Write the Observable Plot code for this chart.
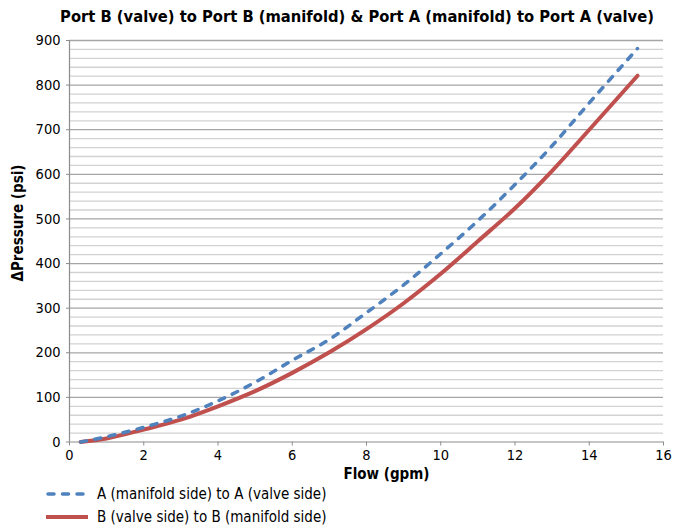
<!DOCTYPE html>
<html>
<head>
<meta charset="utf-8">
<script src="https://cdn.jsdelivr.net/npm/d3@7"></script>
<script src="https://cdn.jsdelivr.net/npm/@observablehq/plot@0.6"></script>
<style>
  html, body { margin: 0; padding: 0; background: #fff; }
  body { width: 683px; height: 529px; position: relative; overflow: hidden;
         font-family: "DejaVu Sans Condensed", "Liberation Sans Narrow", "Roboto", sans-serif; color: #000; }
  #title { position: absolute; left: 357px; top: 7px; transform: translateX(-50%);
           font-weight: bold; font-size: 16.4px; white-space: nowrap; }
  #chart { position: absolute; left: 0; top: 30px; }
  #ylabel { position: absolute; left: 18px; top: 223px; transform: translate(-50%, -50%) rotate(-90deg);
            font-weight: bold; font-size: 15px; white-space: nowrap; }
  .leg { position: absolute; left: 44px; height: 20px; display: flex; align-items: center;
         font-size: 15px; white-space: nowrap; }
  .leg svg { margin-right: 7px; }
</style>
</head>
<body>
<div id="title"></div>
<div id="chart"></div>
<div id="ylabel"></div>
<div id="legend"></div>
<script>
// ---- data ----
const titleText = "Port B (valve) to Port B (manifold) & Port A (manifold) to Port A (valve)";
const xLabel = "Flow (gpm)";
const yLabel = "ΔPressure (psi)";
const seriesNames = ["A (manifold side) to A (valve side)", "B (valve side) to B (manifold side)"];
const seriesColors = ["#4F81BD", "#C0504D"];
const flow    = [0.3, 1, 2, 3, 4, 5, 6, 7, 8, 9, 10, 11, 12, 13, 14, 15.3];
const seriesA = [0, 12, 33, 58, 92, 134, 183, 230, 290, 352, 422, 496, 577, 664, 760, 882];
const seriesB = [0, 8, 28, 50, 80, 114, 155, 201, 253, 311, 377, 450, 524, 608, 700, 821];
const xTicks = [0, 2, 4, 6, 8, 10, 12, 14, 16];
const yTicks = [0, 100, 200, 300, 400, 500, 600, 700, 800, 900];
const yMinorGrid = [20, 40, 60, 80, 120, 140, 160, 180, 220, 240, 260, 280, 320, 340, 360, 380,
  420, 440, 460, 480, 520, 540, 560, 580, 620, 640, 660, 680, 720, 740, 760, 780, 820, 840, 860, 880];

const rowsA = flow.map((f, i) => ({flow: f, p: seriesA[i]}));
const rowsB = flow.map((f, i) => ({flow: f, p: seriesB[i]}));

document.getElementById("title").textContent = titleText;
document.getElementById("ylabel").textContent = yLabel;

const font = '"DejaVu Sans Condensed", "Liberation Sans Narrow", "Roboto", sans-serif';

const plot = Plot.plot({
  width: 683,
  height: 460,
  marginTop: 10,
  marginBottom: 48.5,
  marginLeft: 69,
  marginRight: 20,
  style: {fontFamily: font, fontSize: "14.5px", color: "#000", background: "transparent", overflow: "visible"},
  x: {domain: [0, 16], ticks: xTicks},
  y: {domain: [0, 900], ticks: yTicks},
  marks: [
    Plot.ruleY(yMinorGrid, {stroke: "#d2d2d2", strokeWidth: 1.3}),
    Plot.ruleY(yTicks.filter(d => d > 0), {stroke: "#a6a6a6", strokeWidth: 1.3}),
    Plot.ruleX([0], {stroke: "#8c8c8c", strokeWidth: 1.2}),
    Plot.ruleY([0], {stroke: "#8c8c8c", strokeWidth: 1.2}),
    Plot.axisX({ticks: xTicks, tickSize: 4, tickPadding: 4, stroke: "#8c8c8c", label: null, fontSize: 14.5}),
    Plot.axisY({ticks: yTicks, tickSize: 3, tickPadding: 6, stroke: "#8c8c8c", label: null, fontSize: 14.5}),
    Plot.line(rowsB, {x: "flow", y: "p", stroke: seriesColors[1], strokeWidth: 4, curve: "monotone-x"}),
    Plot.line(rowsA, {x: "flow", y: "p", stroke: seriesColors[0], strokeWidth: 3.5, curve: "monotone-x",
      strokeDasharray: "6,8.5", strokeLinecap: "round"}),
    Plot.text([xLabel], {frameAnchor: "bottom", dx: 20, dy: 37, fontWeight: "bold", fontSize: 15})
  ]
});
document.getElementById("chart").appendChild(plot);

// legend
const legend = document.getElementById("legend");
const legTops = [484, 507];
seriesNames.forEach((name, i) => {
  const div = document.createElement("div");
  div.className = "leg";
  div.style.top = legTops[i] + "px";
  const dashed = i === 0;
  div.innerHTML = `<svg width="46" height="10"><line x1="${dashed ? 4 : 2}" x2="${dashed ? 43 : 44}" y1="5" y2="5"
     stroke="${seriesColors[i]}" stroke-width="${dashed ? 3.5 : 4}"
     ${dashed ? 'stroke-dasharray="6,8.5" stroke-linecap="round"' : ''}/></svg><span></span>`;
  div.querySelector("span").textContent = name;
  legend.appendChild(div);
});
</script>
</body>
</html>
